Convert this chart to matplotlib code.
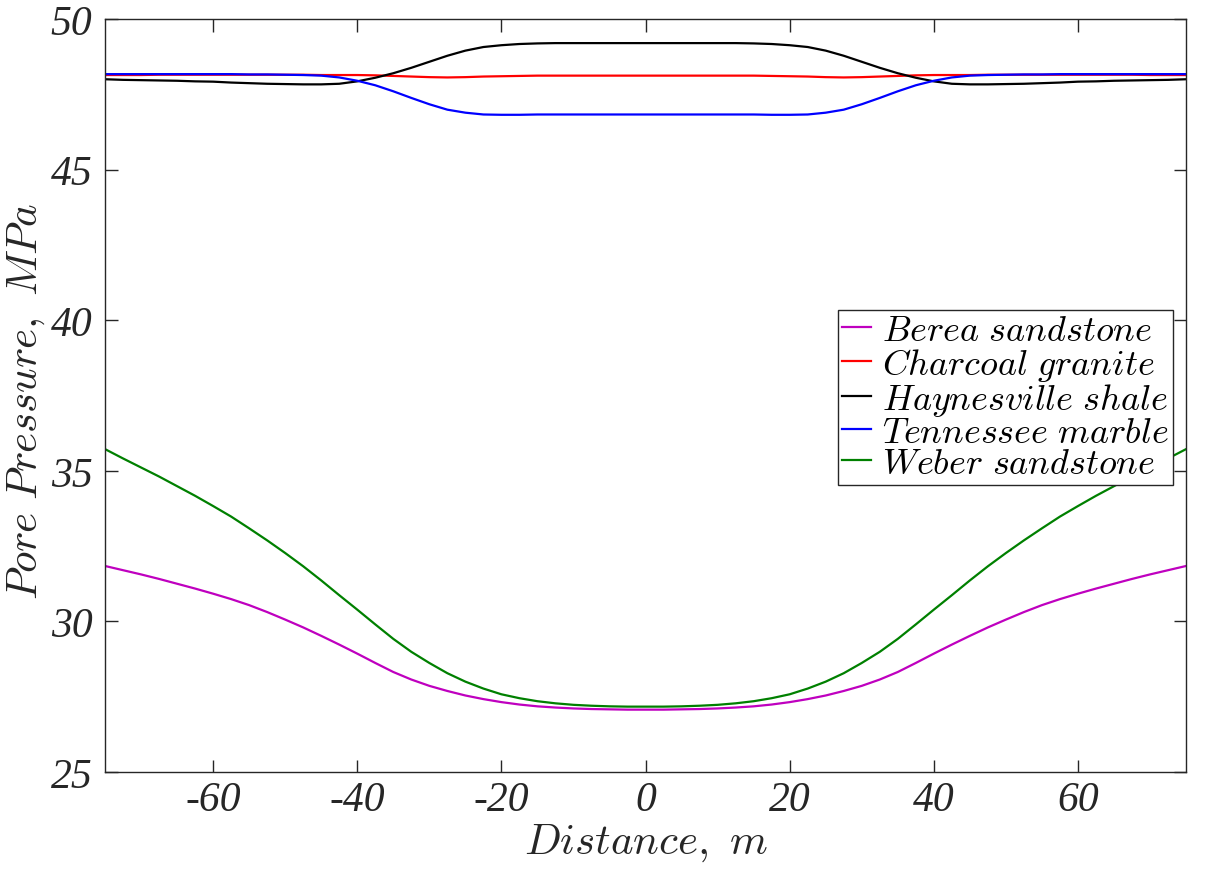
import matplotlib
matplotlib.use('Agg')
import matplotlib.pyplot as plt
from matplotlib.ticker import FuncFormatter, MultipleLocator

plt.rcParams['mathtext.fontset'] = 'cm'
plt.rcParams['axes.unicode_minus'] = False
plt.rcParams['font.family'] = ['Liberation Serif', 'DejaVu Serif']
plt.rcParams['font.style'] = 'italic'

# distance along the profile, m
distance = [-75, -72.5, -70, -67.5, -65, -62.5, -60, -57.5, -55, -52.5,
            -50, -47.5, -45, -42.5, -40, -37.5, -35, -32.5, -30, -27.5,
            -25, -22.5, -20, -17.5, -15, -12.5, -10, -7.5, -5, -2.5,
            0, 2.5, 5, 7.5, 10, 12.5, 15, 17.5, 20, 22.5,
            25, 27.5, 30, 32.5, 35, 37.5, 40, 42.5, 45, 47.5,
            50, 52.5, 55, 57.5, 60, 62.5, 65, 67.5, 70, 72.5, 75]

# pore pressure, MPa
berea = [31.84, 31.70, 31.56, 31.41, 31.25, 31.09, 30.92, 30.74, 30.54, 30.31,
         30.06, 29.80, 29.52, 29.23, 28.93, 28.62, 28.32, 28.07, 27.86, 27.69,
         27.54, 27.42, 27.32, 27.24, 27.18, 27.14, 27.11, 27.09, 27.08, 27.07,
         27.07, 27.07, 27.08, 27.09, 27.11, 27.14, 27.18, 27.24, 27.32, 27.42,
         27.54, 27.69, 27.86, 28.07, 28.32, 28.62, 28.93, 29.23, 29.52, 29.80,
         30.06, 30.31, 30.54, 30.74, 30.92, 31.09, 31.25, 31.41, 31.56, 31.70, 31.84]

charcoal = [48.14, 48.14, 48.14, 48.15, 48.15, 48.15, 48.15, 48.15, 48.15, 48.15,
            48.15, 48.15, 48.14, 48.14, 48.14, 48.13, 48.11, 48.09, 48.07, 48.06,
            48.07, 48.09, 48.10, 48.11, 48.12, 48.12, 48.12, 48.12, 48.12, 48.12,
            48.12, 48.12, 48.12, 48.12, 48.12, 48.12, 48.12, 48.11, 48.10, 48.09,
            48.07, 48.06, 48.07, 48.09, 48.11, 48.13, 48.14, 48.14, 48.14, 48.15,
            48.15, 48.15, 48.15, 48.15, 48.15, 48.15, 48.15, 48.15, 48.14, 48.14, 48.14]

haynesville = [48.00, 47.98, 47.97, 47.96, 47.95, 47.93, 47.92, 47.89, 47.87, 47.85,
               47.84, 47.83, 47.83, 47.85, 47.93, 48.05, 48.20, 48.38, 48.58, 48.78,
               48.95, 49.07, 49.13, 49.17, 49.19, 49.20, 49.20, 49.20, 49.20, 49.20,
               49.20, 49.20, 49.20, 49.20, 49.20, 49.20, 49.19, 49.17, 49.13, 49.07,
               48.95, 48.78, 48.58, 48.38, 48.20, 48.05, 47.93, 47.85, 47.83, 47.83,
               47.84, 47.85, 47.87, 47.89, 47.92, 47.93, 47.95, 47.96, 47.97, 47.98, 48.00]

tennessee = [48.17, 48.17, 48.17, 48.17, 48.17, 48.17, 48.17, 48.17, 48.16, 48.16,
             48.15, 48.14, 48.12, 48.06, 47.95, 47.80, 47.60, 47.38, 47.17, 46.99,
             46.89, 46.83, 46.82, 46.82, 46.83, 46.83, 46.83, 46.83, 46.83, 46.83,
             46.83, 46.83, 46.83, 46.83, 46.83, 46.83, 46.83, 46.82, 46.82, 46.83,
             46.89, 46.99, 47.17, 47.38, 47.60, 47.80, 47.95, 48.06, 48.12, 48.14,
             48.15, 48.16, 48.16, 48.17, 48.17, 48.17, 48.17, 48.17, 48.17, 48.17, 48.17]

weber = [35.72, 35.41, 35.11, 34.81, 34.49, 34.17, 33.83, 33.48, 33.09, 32.69,
         32.27, 31.83, 31.36, 30.87, 30.39, 29.90, 29.42, 28.99, 28.62, 28.28,
         28.00, 27.77, 27.58, 27.45, 27.35, 27.28, 27.23, 27.20, 27.18, 27.17,
         27.17, 27.17, 27.18, 27.20, 27.23, 27.28, 27.35, 27.45, 27.58, 27.77,
         28.00, 28.28, 28.62, 28.99, 29.42, 29.90, 30.39, 30.87, 31.36, 31.83,
         32.27, 32.69, 33.09, 33.48, 33.83, 34.17, 34.49, 34.81, 35.11, 35.41, 35.72]

names = ['Berea sandstone', 'Charcoal granite', 'Haynesville shale',
         'Tennessee marble', 'Weber sandstone']
series = [berea, charcoal, haynesville, tennessee, weber]
colors = ['#BF00BF', '#FF0000', '#000000', '#0000FF', '#008000']

AX_COLOR = '#262626'


def it(s):
    # italic computer-modern look through mathtext
    return r'$\mathit{' + s.replace(' ', r'\ ') + '}$'


fig = plt.figure(figsize=(12.14, 8.70), dpi=100)
ax = fig.add_axes([0.0865, 0.1115, 0.8905, 0.8655])

for vals, name, c in zip(series, names, colors):
    ax.plot(distance, vals, color=c, lw=1.6, label=it(name))

ax.set_xlim(-75, 75)
ax.set_ylim(25, 50)
ax.xaxis.set_major_locator(MultipleLocator(20))
ax.yaxis.set_major_locator(MultipleLocator(5))
ax.xaxis.set_major_formatter(FuncFormatter(lambda v, p: '%d' % round(v)))
ax.yaxis.set_major_formatter(FuncFormatter(lambda v, p: '%d' % round(v)))

ax.tick_params(direction='in', length=9, width=1, top=True, right=True,
               colors=AX_COLOR, labelsize=30)
ax.tick_params(axis='x', pad=6)
ax.tick_params(axis='y', pad=9)
for s in ax.spines.values():
    s.set_color(AX_COLOR)
    s.set_linewidth(1)

ax.set_xlabel(it('Distance, m'), fontsize=31, color=AX_COLOR, va='top')
ax.xaxis.set_label_coords(0.5, -0.066)
ax.set_ylabel(it('Pore Pressure, MPa'), fontsize=31, color=AX_COLOR)
ax.yaxis.set_label_coords(-0.054, 0.494)

leg = ax.legend(loc='upper right', bbox_to_anchor=(0.988, 0.6135), borderaxespad=0,
                fontsize=26, fancybox=False, framealpha=1, edgecolor=AX_COLOR,
                handlelength=0.8, handletextpad=0.3, labelspacing=-0.05,
                borderpad=0.12)
leg.get_frame().set_linewidth(1)

fig.savefig('out.png', dpi=100)
